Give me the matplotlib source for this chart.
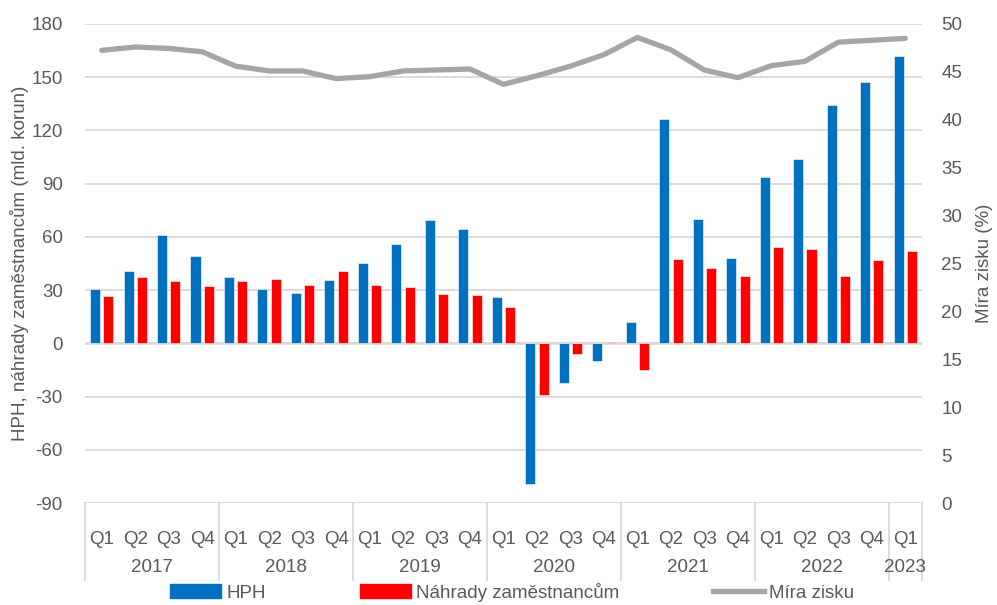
import numpy as np
import matplotlib.pyplot as plt
from matplotlib.lines import Line2D
from matplotlib.patches import Patch
from matplotlib import transforms

plt.rcParams["font.family"] = ["Liberation Sans", "DejaVu Sans"]
plt.rcParams["axes.unicode_minus"] = False

# data
years = ["2017", "2018", "2019", "2020", "2021", "2022", "2023"]
quarters = ["Q1", "Q2", "Q3", "Q4"] * 6 + ["Q1"]
hph = [30.5, 40.8, 60.9, 49.2, 37.2, 30.8, 28.4, 35.9,
       45.5, 56.0, 69.7, 64.6, 25.9, -79.5, -22.2, -10.0,
       12.0, 126.3, 70.1, 48.3, 93.8, 103.7, 134.3, 147.1, 162.0]
nahrady = [26.9, 37.2, 35.3, 32.1, 34.9, 36.1, 33.1, 40.8,
           32.9, 32.0, 28.0, 27.1, 20.5, -29.1, -6.2, 1.0,
           -14.8, 47.4, 42.5, 38.2, 54.1, 53.4, 38.2, 47.0, 52.3]
mira_zisku = [47.25, 47.6, 47.45, 47.1, 45.6, 45.1, 45.1, 44.3,
              44.5, 45.1, 45.2, 45.3, 43.7, 44.6, 45.6, 46.8,
              48.6, 47.3, 45.2, 44.4, 45.65, 46.1, 48.1, 48.3, 48.5]

blue = "#0070C0"
red = "#FF0000"
gray = "#A5A5A5"
txt = "#595959"
grid_c = "#D9D9D9"

fig = plt.figure(figsize=(9.97, 6.05), dpi=100)
ax = fig.add_axes([85 / 997, 1 - 503 / 605, 837 / 997, 479 / 605])
ax2 = ax.twinx()

x = np.arange(len(hph))
ax.bar(x - 0.2, hph, width=0.3, color=blue, edgecolor="white", linewidth=0.4, zorder=3)
ax.bar(x + 0.2, nahrady, width=0.3, color=red, edgecolor="white", linewidth=0.4, zorder=3)
ax2.plot(x, mira_zisku, color=gray, linewidth=3.8, solid_capstyle="round", zorder=4)

ax.set_xlim(-0.5, len(hph) - 0.5)
ax.set_ylim(-90, 180)
ax.set_yticks(np.arange(-90, 181, 30))
ax2.set_ylim(0, 50)
ax2.set_yticks(np.arange(0, 51, 5))

ax.grid(axis="y", color=grid_c, linewidth=1.3, zorder=0)
ax.axhline(0, color=grid_c, linewidth=2, zorder=2)
ax.set_axisbelow(True)
for a in (ax, ax2):
    for s in a.spines.values():
        s.set_visible(False)
    a.tick_params(length=0, labelsize=13.5, colors=txt)
ax.set_xticks([])
ax.tick_params(axis="y", pad=16)
ax2.tick_params(axis="y", pad=14)

ax.set_ylabel("HPH, náhrady zaměstnancům (mld. korun)", fontsize=13.5, color=txt, labelpad=2)
ax2.set_ylabel("Míra zisku (%)", fontsize=13.5, color=txt, labelpad=10)

# two-level category axis
tr = transforms.blended_transform_factory(ax.transData, ax.transAxes)
h = 479.0
for i, q in enumerate(quarters):
    ax.text(i, -(540 - 503) / h, q, transform=tr, ha="center", va="center",
            fontsize=13.5, color=txt, clip_on=False)
for j, yr in enumerate(years):
    start = j * 4 - 0.5
    end = min(j * 4 + 3.5, len(hph) - 0.5)
    ax.text((start + end) / 2, -(567 - 503) / h, yr, transform=tr, ha="center",
            va="center", fontsize=13.5, color=txt, clip_on=False)
    ax.add_line(Line2D([start, start], [0, -(580 - 503) / h], transform=tr,
                       color=grid_c, linewidth=1.3, clip_on=False))
ax.add_line(Line2D([len(hph) - 0.5] * 2, [0, -(580 - 503) / h], transform=tr,
                   color=grid_c, linewidth=1.3, clip_on=False))

handles = [Patch(color=blue, label="HPH"),
           Patch(color=red, label="Náhrady zaměstnancům"),
           Line2D([], [], color=gray, linewidth=3.8, label="Míra zisku")]
fig.legend(handles=handles, loc="center", bbox_to_anchor=(0.514, 1 - 592 / 605),
           ncol=3, frameon=False, fontsize=13.5, labelcolor=txt,
           handlelength=2.7, handleheight=0.8, handletextpad=0.3, columnspacing=5)

fig.savefig("out.png", dpi=100)
